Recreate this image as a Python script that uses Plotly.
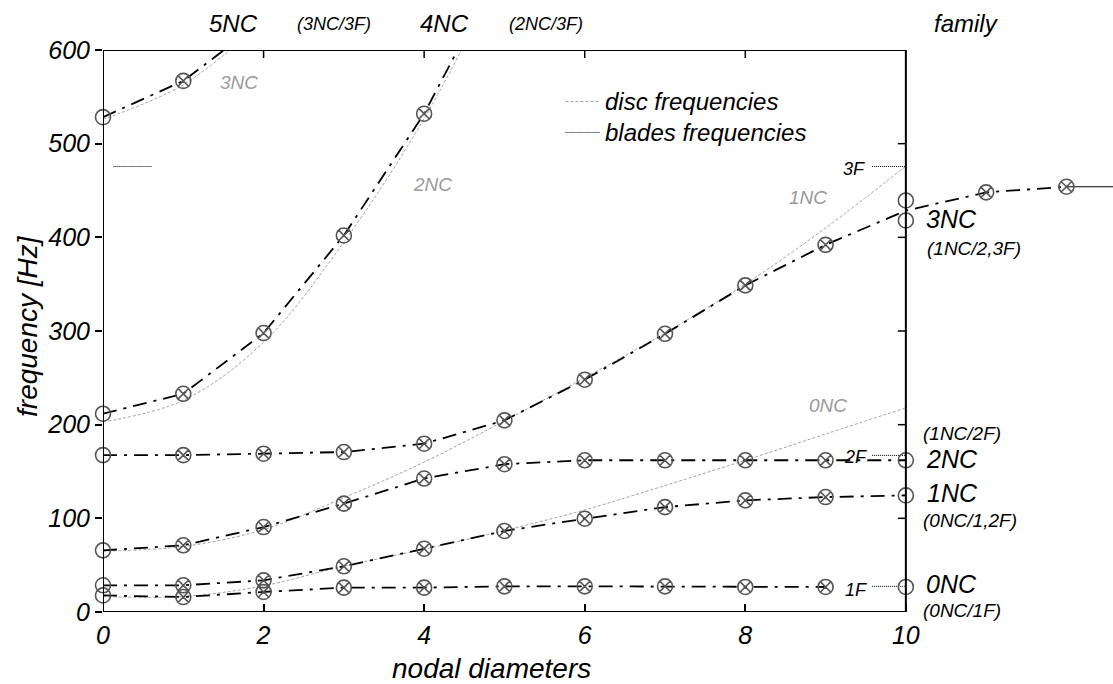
import plotly.graph_objects as go

# ---------------- data ----------------
ND = list(range(11))            # nodal diameters 0..10
ND_EXT = list(range(13))        # branch continuing past 10

# coupled (blade) branches
S1 = [17.7, 16.0, 21.4, 26.0, 26.0, 27.4, 27.4, 27.4, 26.7, 26.7, 26.7]
S2 = [28.5, 28.5, 33.8, 48.8, 67.6, 86.5, 99.6, 112.0, 119.2, 122.7, 124.5]
S3 = [65.8, 71.2, 90.7, 115.7, 142.5, 157.8, 162.0, 162.0, 162.0, 162.0, 162.0]
S4 = [167.5, 167.5, 169.0, 170.8, 179.7, 204.6, 248.0, 297.0, 348.7, 392.0, 428.5, 448.0, 454.0]
S4_TAIL_X = [12, 12.58]
S4_TAIL = [454.0, 454.0]
S4_END = [418.0, 439.4]
S5 = [211.7, 233.0, 297.8, 402.0, 532.0, 695.0]
S6 = [528.3, 567.0, 632.0]

# disc-alone frequencies
D0 = [16.5, 16.5, 28.0, 49.0, 67.0, 87.0, 109.0, 135.0, 162.0, 190.0, 218.0]
D1 = [65.0, 70.0, 88.0, 122.0, 160.0, 204.0, 250.0, 298.0, 350.0, 410.0, 476.0]
D2 = [203.0, 226.0, 288.0, 395.0, 527.0, 690.0]
D3 = [526.0, 563.0, 631.0]

# blade-alone frequencies (1F, 2F, 3F)
F_NAMES = ["1F", "2F", "3F"]
F_LEVELS = [27.4, 167.2, 475.6]

X_TICKS = [0, 2, 4, 6, 8, 10]
Y_TICKS = [0, 100, 200, 300, 400, 500, 600]
X_MAX = 12.58
Y_MAX = 600

# ---------------- styling ----------------
FONT = "Liberation Sans, Arial, sans-serif"
DASHDOT = "14px,7px,3px,7px"
MK = "#555555"
GRAY = "#a3a3a3"

fig = go.Figure()

# disc curves
for xs, ys in [(ND, D0), (ND, D1), (ND[:len(D2)], D2), (ND[:len(D3)], D3)]:
    fig.add_trace(go.Scatter(x=xs, y=ys, mode="lines", line_shape="spline",
                             line=dict(color=GRAY, width=1, dash="3px,2px"),
                             showlegend=False, hoverinfo="skip"))

# blade frequency levels near right axis and one near left
for lev in F_LEVELS:
    fig.add_trace(go.Scatter(x=[9.58, 10], y=[lev, lev], mode="lines",
                             line=dict(color="black", width=1, dash="1px,1px"),
                             showlegend=False, hoverinfo="skip"))
fig.add_trace(go.Scatter(x=[0.13, 0.61], y=[F_LEVELS[2], F_LEVELS[2]], mode="lines",
                         line=dict(color="black", width=1, dash="1px,1px"),
                         showlegend=False, hoverinfo="skip"))

# coupled branch lines
branches = [
    (ND[:10], S1[:10]),
    (ND, S2),
    (ND, S3),
    (ND_EXT, S4),
    (ND[:len(S5)], S5),
    (ND[:len(S6)], S6),
]
for xs, ys in branches:
    fig.add_trace(go.Scatter(x=xs, y=ys, mode="lines",
                             line=dict(color="black", width=1.8, dash=DASHDOT),
                             showlegend=False, hoverinfo="skip"))
fig.add_trace(go.Scatter(x=S4_TAIL_X, y=S4_TAIL, mode="lines",
                         line=dict(color="black", width=1.2),
                         showlegend=False, hoverinfo="skip"))

# circle-x markers at interior nodal diameters
mx, my = [], []
for xs, ys in branches:
    for x, y in zip(xs, ys):
        if 0 < x != 10 and y <= Y_MAX:
            mx.append(x)
            my.append(y)
fig.add_trace(go.Scatter(x=mx, y=my, mode="markers", cliponaxis=False,
                         marker=dict(symbol="circle-x-open", size=15, color=MK,
                                     line=dict(width=1.6, color=MK)),
                         showlegend=False, hoverinfo="skip"))

# open circles at ND 0 and ND 10
cx = [0] * 6 + [10] * 5
cy = [S1[0], S2[0], S3[0], S4[0], S5[0], S6[0],
      S1[10], S2[10], S3[10], S4_END[0], S4_END[1]]
fig.add_trace(go.Scatter(x=cx, y=cy, mode="markers", cliponaxis=False,
                         marker=dict(symbol="circle-open", size=15, color=MK,
                                     line=dict(width=1.6, color=MK)),
                         showlegend=False, hoverinfo="skip"))

# ---------------- frame, ticks, legend ----------------
shapes = []
L = dict(color="black", width=2)
shapes += [
    dict(type="line", x0=0, x1=10, y0=0, y1=0, line=L),
    dict(type="line", x0=0, x1=10, y0=600, y1=600, line=L),
    dict(type="line", x0=0, x1=0, y0=0, y1=600, line=L),
    dict(type="line", x0=10, x1=10, y0=0, y1=600, line=L),
]
T = dict(color="black", width=1.5)
for xt in X_TICKS[1:-1]:
    shapes.append(dict(type="line", x0=xt, x1=xt, y0=600, y1=600 - 8 / 0.9367, line=T))
for yt in Y_TICKS[1:-1]:
    shapes.append(dict(type="line", x0=10, x1=10 - 8 / 80.3, y0=yt, y1=yt, line=T))
# legend samples
shapes.append(dict(type="line", x0=5.76, x1=6.19, y0=545, y1=545,
                   line=dict(color=GRAY, width=1, dash="3px,2px")))
shapes.append(dict(type="line", x0=5.76, x1=6.19, y0=512, y1=512,
                   line=dict(color="black", width=1, dash="1px,1px")))


def ann(text, x, y, size, color="black", xanchor="center", angle=0):
    # positions given in data units, placed in paper coords so that text
    # outside the axis ranges is still drawn
    return dict(text=text, x=x / X_MAX, y=y / Y_MAX, xref="paper", yref="paper",
                showarrow=False, xanchor=xanchor, yanchor="middle", textangle=angle,
                font=dict(family=FONT, size=size, color=color, style="italic"))


annotations = [
    ann("nodal diameters", 4.836, -60.0, 28),
    ann("frequency [Hz]", -0.943, 305.7, 28, angle=-90),
    ann("disc frequencies", 6.23, 545, 24, xanchor="left"),
    ann("blades frequencies", 6.23, 512, 24, xanchor="left"),
    # top labels
    ann("5NC", 1.62, 628, 24),
    ann("(3NC/3F)", 2.88, 628, 18),
    ann("4NC", 4.25, 628, 24),
    ann("(2NC/3F)", 5.52, 628, 18),
    ann("family", 10.76, 628, 24),
    # disc labels (gray)
    ann("3NC", 1.70, 565.6, 19, color="#9a9a9a"),
    ann("2NC", 4.11, 456, 19, color="#9a9a9a"),
    ann("1NC", 8.78, 443, 19, color="#9a9a9a"),
    ann("0NC", 9.03, 220, 19, color="#9a9a9a"),
    # blade labels
    ann(F_NAMES[2], 9.36, 473, 18),
    ann(F_NAMES[1], 9.37, 166, 18),
    ann(F_NAMES[0], 9.38, 23.7, 18),
    # family labels on right
    ann("3NC", 10.22, 420, 25, xanchor="left"),
    ann("(1NC/2,3F)", 10.24, 388, 19, xanchor="left"),
    ann("(1NC/2F)", 10.19, 190.2, 19, xanchor="left"),
    ann("2NC", 10.22, 163, 25, xanchor="left"),
    ann("1NC", 10.24, 127, 25, xanchor="left"),
    ann("(0NC/1,2F)", 10.19, 97.9, 19, xanchor="left"),
    ann("0NC", 10.22, 29.6, 25, xanchor="left"),
    ann("(0NC/1F)", 10.19, 1.8, 19, xanchor="left"),
]

fig.update_layout(
    width=1113, height=684,
    margin=dict(l=103, r=0, t=50, b=72),
    paper_bgcolor="white", plot_bgcolor="white",
    font=dict(family=FONT, color="black", style="italic"),
    showlegend=False,
    shapes=shapes,
    annotations=annotations,
    xaxis=dict(range=[0, X_MAX], tickvals=X_TICKS, ticktext=[str(v) for v in X_TICKS],
               ticks="inside", ticklen=8, tickwidth=1.5, tickcolor="black",
               ticklabelstandoff=6,
               showline=False, showgrid=False, zeroline=False,
               tickfont=dict(family=FONT, size=25, color="black", style="italic")),
    yaxis=dict(range=[0, Y_MAX], tickvals=Y_TICKS, ticktext=[str(v) for v in Y_TICKS],
               ticks="outside", ticklen=7, tickwidth=1.5, tickcolor="black",
               showline=False, showgrid=False, zeroline=False,
               tickfont=dict(family=FONT, size=25, color="black", style="italic")),
)

fig.write_html("out.html")
